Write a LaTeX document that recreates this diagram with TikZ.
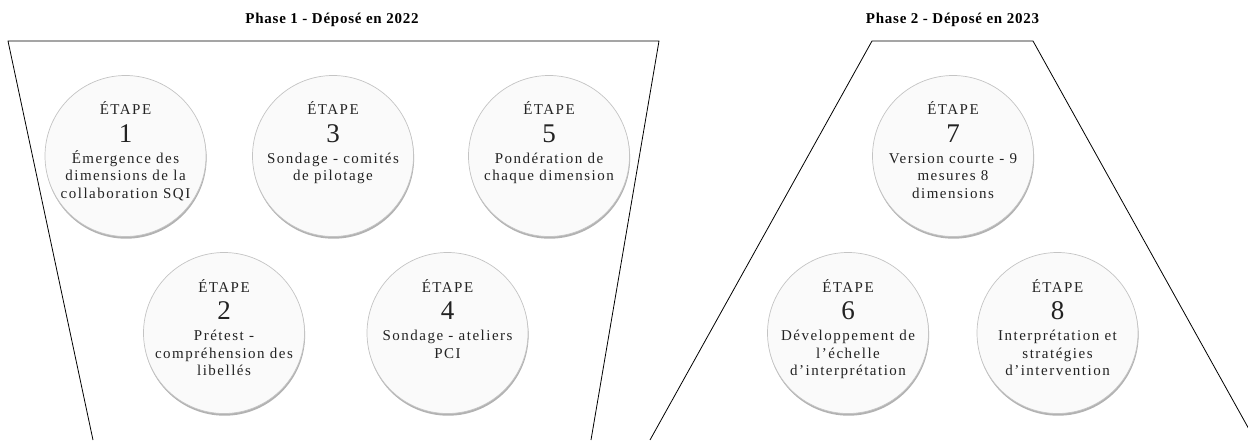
\documentclass[tikz,border=0pt]{standalone}
\usepackage{fontspec}
\setmainfont{Liberation Serif}
\newfontfamily\spacedserif[LetterSpace=10]{Liberation Serif}
\newfontfamily\titleserif[LetterSpace=5]{Liberation Serif}
\usetikzlibrary{shadows}
\definecolor{txt}{HTML}{222222}
\definecolor{ring}{HTML}{C4C4C4}
\definecolor{disc}{HTML}{FAFAFA}
\tikzset{
  stepcircle/.style={circle, draw=ring, line width=0.7pt, fill=disc, minimum size=161pt, inner sep=0pt,
    drop shadow={shadow xshift=0.6pt, shadow yshift=-2.2pt, opacity=0.3, fill=black}},
  lab/.style={anchor=base, inner sep=0pt, text=txt, font=\spacedserif\fontsize{15}{18}\selectfont},
  num/.style={anchor=base, inner sep=0pt, text=txt, font=\fontsize{27}{30}\selectfont},
  body/.style={anchor=base, inner sep=0pt, text=txt, font=\spacedserif\fontsize{15}{18}\selectfont},
  phasetitle/.style={anchor=base, inner sep=0pt, text=black, font=\titleserif\bfseries\fontsize{15}{18}\selectfont},
  funnel/.style={draw=black, line width=0.8pt, line join=miter},
}
\newcommand\etape[3]{%
  \node[lab] (#1-a) at ([yshift=41pt]#1.center) {ÉTAPE};
  \node[num] (#1-n) at ([yshift=14pt]#1.center) {#2};
  \foreach \ln [count=\i] in {#3} {\node[body] (#1-\i) at ([yshift={-7.5-17.5*(\i-1)}]#1.center) {\ln};}
}
\begin{document}
\begin{tikzpicture}[x=1pt,y=1pt]
\useasboundingbox (0,0) rectangle (1248,440);
% titles
\node[phasetitle] (t1) at (332,416) {Phase 1 - Déposé en 2022};
\node[phasetitle] (t2) at (952.5,416) {Phase 2 - Déposé en 2023};
% funnels
\begin{scope}
  \clip (0,0) rectangle (1248,440);
  \coordinate (a1) at (93,0);
  \coordinate (a2) at (8,399);
  \coordinate (a3) at (659,399);
  \coordinate (a4) at (591,0);
  \draw[funnel] (a1) -- (a2) -- (a3) -- (a4);
  \coordinate (b1) at (650,0);
  \coordinate (b2) at (872,399);
  \coordinate (b3) at (1033,399);
  \coordinate (b4) at (1255,0);
  \draw[funnel] (b1) -- (b2) -- (b3) -- (b4);
\end{scope}
% circles
\node[stepcircle] (c1) at (125.5,284) {};
\node[stepcircle] (c3) at (333,284) {};
\node[stepcircle] (c5) at (549,284) {};
\node[stepcircle] (c2) at (224,107) {};
\node[stepcircle] (c4) at (447.5,107) {};
\node[stepcircle] (c7) at (953,284) {};
\node[stepcircle] (c6) at (848,107) {};
\node[stepcircle] (c8) at (1057.5,107) {};
\etape{c1}{1}{Émergence des, dimensions de la, collaboration SQI}
\etape{c3}{3}{Sondage - comités, de pilotage}
\etape{c5}{5}{Pondération de, chaque dimension}
\etape{c2}{2}{Prétest -, compréhension des, libellés}
\etape{c4}{4}{Sondage - ateliers, PCI}
\etape{c7}{7}{Version courte - 9, mesures 8, dimensions}
\etape{c6}{6}{Développement de, l’échelle, d’interprétation}
\etape{c8}{8}{Interprétation et, stratégies, d’intervention}
\end{tikzpicture}
\end{document}
